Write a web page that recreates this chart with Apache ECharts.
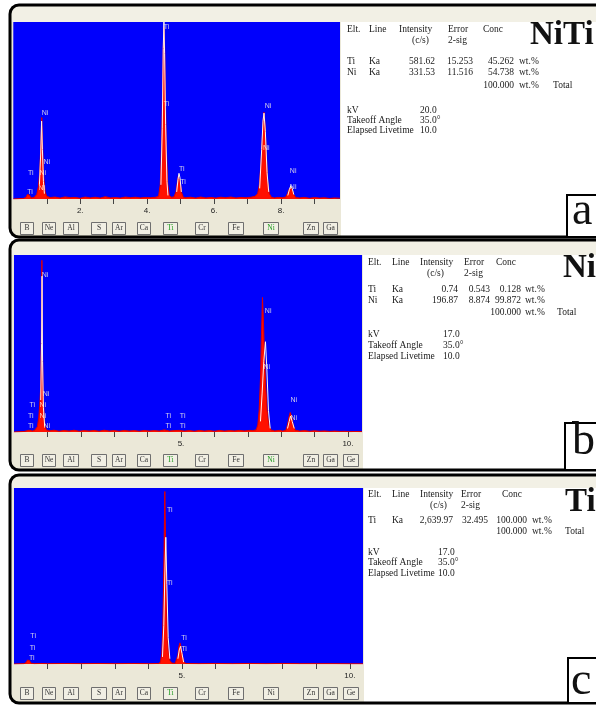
<!DOCTYPE html>
<html><head><meta charset="utf-8">
<script src="https://cdn.jsdelivr.net/npm/echarts@6/dist/echarts.min.js"></script>
<style>html,body{margin:0;padding:0;background:#fff}#c{width:596px;height:706px}</style>
</head><body><div id="c"></div>
<script>
// ---------------- DATA ----------------
// Spectra: [energy keV, relative counts %]
const spectrumA = [
 [0,0],[0.30,0.3],[0.38,1.0],[0.42,2.5],[0.45,3.5],[0.48,2.2],[0.53,0.6],[0.62,0.9],[0.70,2.5],[0.75,7],[0.79,15],[0.82,29],[0.85,46],[0.88,27],[0.91,12],[0.95,4],[1.00,1.5],
 [1.10,0.8],[1.25,1.1],[1.40,0.5],[1.55,1.2],[1.70,0.7],[1.85,0.9],[2.00,0.4],[2.15,1.1],[2.30,0.6],[2.45,1.0],[2.60,0.5],[2.75,1.3],[2.90,0.6],[3.05,0.8],[3.20,0.5],[3.35,1.1],[3.50,0.7],[3.65,1.0],[3.80,0.6],[3.95,0.9],[4.10,0.7],[4.25,1.0],
 [4.34,1.5],[4.39,8],[4.43,30],[4.46,62],[4.48,85],[4.50,97],[4.52,86],[4.54,62],[4.57,30],[4.61,9],[4.66,2.0],[4.72,1.0],
 [4.80,1.2],[4.86,4],[4.90,9],[4.93,13],[4.96,13.5],[4.99,9],[5.03,3.5],[5.08,1.0],
 [5.15,0.7],[5.30,1.0],[5.45,0.5],[5.60,1.1],[5.75,0.6],[5.90,0.9],[6.05,0.5],[6.20,1.0],[6.35,0.7],[6.50,1.1],[6.65,0.6],[6.80,0.9],[6.95,0.7],[7.10,1.0],
 [7.22,1.5],[7.30,3],[7.35,8],[7.40,20],[7.44,35],[7.47,46],[7.49,49],[7.52,42],[7.56,25],[7.60,10],[7.65,3],[7.71,1.0],
 [7.80,0.6],[7.92,0.9],[8.05,0.7],[8.14,1.2],[8.19,3],[8.24,5.5],[8.29,6.8],[8.33,5.5],[8.38,2.5],[8.44,0.8],
 [8.55,0.6],[8.70,0.9],[8.85,0.4],[9.00,0.8],[9.15,0.5],[9.30,0.7],[9.45,0.3],[9.60,0.6],[9.76,0.4]
];
const overlayA = [
 [0.78,8],[0.82,26],[0.845,44],[0.87,28],[0.90,10],[0.93,3],[0.95,'-'],
 [4.41,8],[4.45,40],[4.48,85],[4.50,100],[4.52,82],[4.55,42],[4.59,10],[4.62,2],[4.75,'-'],
 [4.88,4],[4.92,11],[4.95,14.5],[4.98,12],[5.02,4],[5.10,'-'],
 [7.36,6],[7.42,28],[7.46,44],[7.49,48.5],[7.53,38],[7.58,15],[7.63,4],[7.80,'-'],
 [8.20,2],[8.25,5.5],[8.29,7.5],[8.33,6],[8.38,2.5]
];
const spectrumB = [
 [0,0],[0.30,0.3],[0.45,1.0],[0.55,0.6],[0.62,1.0],[0.66,1.5],[0.70,3],[0.74,8],[0.77,15],[0.80,25],[0.82,55],[0.835,97],[0.85,50],[0.87,22],[0.90,10],[0.93,3],[0.97,1.2],
 [1.05,0.6],[1.20,1.0],[1.35,0.4],[1.50,0.9],[1.65,0.5],[1.80,1.0],[1.95,0.4],[2.10,0.8],[2.25,0.5],[2.40,0.9],[2.55,0.4],[2.70,1.0],[2.85,0.5],[3.00,0.8],[3.15,0.4],[3.30,0.9],[3.45,0.5],[3.60,0.8],[3.75,0.4],[3.90,0.9],[4.05,0.5],[4.20,0.8],[4.35,0.5],[4.50,1.2],[4.65,0.5],[4.80,0.8],[4.95,0.9],[5.10,0.5],[5.25,0.8],[5.40,0.4],[5.55,0.9],[5.70,0.5],[5.85,0.8],[6.00,0.4],[6.15,0.9],[6.30,0.5],[6.45,0.8],[6.60,0.6],[6.75,0.9],[6.90,0.6],[7.05,0.9],[7.15,0.8],
 [7.25,1.2],[7.30,4],[7.34,12],[7.38,30],[7.41,55],[7.44,76],[7.47,62],[7.50,42],[7.54,25],[7.58,12],[7.63,4],[7.69,1.2],
 [7.80,0.6],[7.95,0.9],[8.05,0.5],[8.14,1.0],[8.19,4],[8.23,8],[8.27,11],[8.31,9],[8.36,4],[8.42,1.0],
 [8.55,0.5],[8.70,0.8],[8.85,0.4],[9.00,0.7],[9.15,0.4],[9.30,0.6],[9.45,0.3],[9.60,0.5],[9.75,0.3],[9.90,0.4],[10.05,0.2],[10.20,0.3],[10.42,0.2]
];
const overlayB = [
 [0.80,18],[0.825,50],[0.84,88],[0.855,40],[0.88,14],[0.92,3],[1.00,'-'],
 [7.38,6],[7.43,22],[7.48,40],[7.53,51],[7.57,36],[7.62,12],[7.67,2],[7.90,'-'],
 [8.19,2],[8.24,6],[8.28,9],[8.33,6],[8.39,2]
];
const spectrumC = [
 [0,0],[0.30,0.2],[0.36,0.8],[0.40,2.2],[0.43,3.0],[0.46,2.0],[0.50,0.5],[0.60,0.2],[0.80,0.3],[1.00,0.2],[1.50,0.3],[2.00,0.2],[2.50,0.3],[3.00,0.2],[3.50,0.3],[4.00,0.2],
 [4.30,0.3],[4.36,1],[4.40,6],[4.43,20],[4.46,55],[4.49,98],[4.52,60],[4.55,25],[4.59,8],[4.64,2],[4.70,0.5],
 [4.80,0.4],[4.84,1],[4.88,5],[4.91,10],[4.94,12],[4.97,10],[5.01,5],[5.06,1],[5.12,0.3],
 [5.50,0.2],[6.00,0.3],[6.50,0.2],[7.00,0.3],[7.50,0.2],[8.00,0.3],[8.50,0.2],[9.00,0.2],[9.50,0.2],[10.00,0.1],[10.39,0.1]
];
const overlayC = [
 [4.42,4],[4.46,22],[4.49,50],[4.52,72],[4.55,45],[4.59,15],[4.64,3],[4.75,'-'],
 [4.88,3],[4.92,8],[4.96,10],[5.00,6],[5.05,1]
];
// Peak markers: [keV, counts %, element]
const markersA = [
 [4.58,97.3,'Ti'],[4.58,53.7,'Ti'],[7.61,52.5,'Ni'],[7.56,28.6,'Ni'],[5.03,16.8,'Ti'],[5.07,9.8,'Ti'],
 [8.36,15.8,'Ni'],[8.36,7.0,'Ni'],[0.95,48.8,'Ni'],[1.00,21.1,'Ni'],[0.52,14.9,'Ti'],[0.88,14.9,'Ni'],[0.50,4.1,'Ti'],[0.85,6.4,'Ni']
];
const markersB = [
 [0.93,88.7,'Ni'],[7.61,68.4,'Ni'],[7.57,36.9,'Ni'],[0.96,21.3,'Ni'],[0.55,15.3,'Ti'],[0.86,15.3,'Ni'],
 [0.50,9.0,'Ti'],[0.86,9.0,'Ni'],[0.50,3.4,'Ti'],[0.98,3.4,'Ni'],[4.62,9.0,'Ti'],[5.05,9.0,'Ti'],
 [4.62,3.4,'Ti'],[5.05,3.4,'Ti'],[8.38,18.1,'Ni'],[8.38,8.1,'Ni']
];
const markersC = [
 [4.64,87.5,'Ti'],[4.64,45.8,'Ti'],[0.57,15.9,'Ti'],[0.55,8.9,'Ti'],[0.53,3.2,'Ti'],[5.06,15.0,'Ti'],[5.06,8.5,'Ti']
];
// Axis ticks and tick labels (keV)
const ticksA = [1,2,3,4,5,6,7,8,9];
const tickLabelsA = [2,4,6,8];
const ticksB = [1,2,3,4,5,6,7,8,9,10];
const tickLabelsB = [5,10];
const ticksC = [1,2,3,4,5,6,7,8,9,10];
const tickLabelsC = [5,10];
// Element buttons
const elementButtons = ['B','Ne','Al','S','Ar','Ca','Ti','Cr','Fe','Ni','Zn','Ga','Ge'];
const activeA = ['Ti','Ni'], activeB = ['Ti','Ni'], activeC = ['Ti'];
// Quantification tables
const tableHeader = ['Elt.','Line','Intensity','Error','Conc'];
const tableHeader2 = ['(c/s)','2-sig'];
const eltA = ['Ti','Ni'], lineA = ['Ka','Ka'], intA = ['581.62','331.53'], errA = ['15.253','11.516'], concA = ['45.262','54.738'];
const eltB = ['Ti','Ni'], lineB = ['Ka','Ka'], intB = ['0.74','196.87'], errB = ['0.543','8.874'], concB = ['0.128','99.872'];
const eltC = ['Ti'], lineC = ['Ka'], intC = ['2,639.97'], errC = ['32.495'], concC = ['100.000'];
const totalConc = '100.000';
const condLabels = ['kV','Takeoff Angle','Elapsed Livetime'];
const condA = ['20.0','35.0°','10.0'], condB = ['17.0','35.0°','10.0'], condC = ['17.0','35.0°','10.0'];
const sampleNames = ['NiTi','Ni','Ti'];
const panelLetters = ['a','b','c'];

// ---------------- LAYOUT ----------------
const BTN_X = [20,42,63,91,112,137,163,195,228,263,303,323,343];
const BTN_W = [13,13,15,15,13,13,14,13,15,15,15,14,15];
const panels = [
 {top:5,bottom:237,win:341,grid:{left:13.3,top:22,width:326.7,height:177},xmax:9.76,btnY:222,
  spec:spectrumA,ovl:overlayA,mk:markersA,ticks:ticksA,tl:tickLabelsA,active:activeA,
  tab:{elt:eltA,line:lineA,int:intA,err:errA,conc:concA,cond:condA},
  c:{elt:347,line:369,intH:399,cs:412,errH:448,concH:483,intR:435,errR:473,concR:514,unit:519,total:553,val:420},
  r:{h1:29,h2:40,r0:61,dr:11,tot:85,kv:110,dk:10},
  big:{x:530,y:35,size:33},box:{x:567,y:195,h:42},letter:{x:572,y:212}},
 {top:240,bottom:470,win:363,grid:{left:14,top:255,width:348,height:177},xmax:10.42,btnY:454,
  spec:spectrumB,ovl:overlayB,mk:markersB,ticks:ticksB,tl:tickLabelsB,active:activeB,
  tab:{elt:eltB,line:lineB,int:intB,err:errB,conc:concB,cond:condB},
  c:{elt:368,line:392,intH:420,cs:427,errH:464,concH:496,intR:458,errR:490,concR:521,unit:525,total:557,val:443},
  r:{h1:262,h2:273,r0:289,dr:11.5,tot:312,kv:334,dk:11.3},
  big:{x:563,y:268,size:33},box:{x:565,y:423,h:47},letter:{x:572,y:442}},
 {top:475,bottom:703,win:364,grid:{left:14,top:488,width:349,height:176},xmax:10.39,btnY:687,
  spec:spectrumC,ovl:overlayC,mk:markersC,ticks:ticksC,tl:tickLabelsC,active:activeC,
  tab:{elt:eltC,line:lineC,int:intC,err:errC,conc:concC,cond:condC},
  c:{elt:368,line:392,intH:420,cs:430,errH:461,concH:502,intR:453,errR:488,concR:527,unit:532,total:565,val:438},
  r:{h1:494,h2:505,r0:520,dr:11,tot:531,kv:552,dk:10.7},
  big:{x:565,y:502,size:33},box:{x:568,y:658,h:45},letter:{x:571,y:682}}
];

const SERIF = '"Liberation Serif", "Times New Roman", serif';
const grids = [], xAxes = [], yAxes = [], series = [], graphics = [];
function txt(x,y,t,opt){
  opt = opt||{};
  graphics.push({type:'text',x:x,y:y,z:30,silent:true,style:{text:t,
    font:(opt.weight||'normal')+' '+(opt.size||9.5)+'px '+SERIF,
    fill:opt.fill||'#1a1a1a',align:opt.align||'left',verticalAlign:'middle'}});
}

panels.forEach((p,i)=>{
  graphics.push({type:'rect',z:-10,silent:true,shape:{x:11,y:p.top+1,width:p.win-11,height:p.bottom-p.top-2},style:{fill:'#ebe8d8'}});
  graphics.push({type:'rect',z:-9,silent:true,shape:{x:11,y:p.top+1,width:600,height:p.grid.top-p.top-1},style:{fill:'#f2f0e5'}});
  graphics.push({type:'rect',z:60,silent:true,shape:{x:10,y:p.top,width:640,height:p.bottom-p.top,r:9},style:{fill:null,stroke:'#000',lineWidth:3}});
  elementButtons.forEach((el,k)=>{
    if (BTN_X[k]+BTN_W[k] > p.win) return;
    graphics.push({type:'rect',z:20,silent:true,shape:{x:BTN_X[k]+0.5,y:p.btnY+0.5,width:BTN_W[k],height:12},
      style:{fill:'#f1efe4',stroke:'#6f6f6f',lineWidth:1}});
    graphics.push({type:'text',z:21,silent:true,x:BTN_X[k]+BTN_W[k]/2+0.5,y:p.btnY+6.5,
      style:{text:el,font:'7.5px '+SERIF,fill:p.active.indexOf(el)>=0?'#1e9a1e':'#333',align:'center',verticalAlign:'middle'}});
  });
  const c=p.c, r=p.r, t=p.tab;
  txt(c.elt,r.h1,tableHeader[0]); txt(c.line,r.h1,tableHeader[1]); txt(c.intH,r.h1,tableHeader[2]);
  txt(c.errH,r.h1,tableHeader[3]); txt(c.concH,r.h1,tableHeader[4]);
  txt(c.cs,r.h2,tableHeader2[0]); txt(c.errH,r.h2,tableHeader2[1]);
  t.elt.forEach((e,k)=>{
    const y=r.r0+k*r.dr;
    txt(c.elt,y,e); txt(c.line,y,t.line[k]);
    txt(c.intR,y,t.int[k],{align:'right'}); txt(c.errR,y,t.err[k],{align:'right'});
    txt(c.concR,y,t.conc[k],{align:'right'}); txt(c.unit,y,'wt.%');
  });
  txt(c.concR,r.tot,totalConc,{align:'right'}); txt(c.unit,r.tot,'wt.%'); txt(c.total,r.tot,'Total');
  condLabels.forEach((lab,k)=>{ txt(c.elt,r.kv+k*r.dk,lab); txt(c.val,r.kv+k*r.dk,t.cond[k]); });
  txt(p.big.x,p.big.y,sampleNames[i],{size:p.big.size,weight:'bold',fill:'#111'});
  graphics.push({type:'rect',z:61,silent:true,shape:{x:p.box.x,y:p.box.y,width:60,height:p.box.h},style:{fill:'#fff',stroke:'#000',lineWidth:2}});
  graphics.push({type:'text',z:62,silent:true,x:p.letter.x,y:p.letter.y,style:{text:panelLetters[i],font:'46px '+SERIF,fill:'#111',align:'left',verticalAlign:'middle'}});

  grids.push({left:p.grid.left,top:p.grid.top,width:p.grid.width,height:p.grid.height,show:true,backgroundColor:'#0000fc',borderWidth:0});
  xAxes.push({gridIndex:i,type:'value',min:0,max:p.xmax,interval:1,
    axisLine:{show:false},splitLine:{show:false},
    axisTick:{show:true,inside:false,length:5,lineStyle:{color:'#444',width:1},customValues:p.ticks},
    axisLabel:{show:true,margin:8,fontSize:8,color:'#222',fontFamily:'"Liberation Sans", Arial, sans-serif',customValues:p.tl,formatter:v=>v+'.'}});
  yAxes.push({gridIndex:i,type:'value',min:0,max:100,show:false});
  series.push({type:'line',xAxisIndex:i,yAxisIndex:i,data:p.spec,symbol:'none',silent:true,z:2,
    lineStyle:{color:'#e00000',width:1},areaStyle:{color:'#ff1000',opacity:1}});
  series.push({type:'line',xAxisIndex:i,yAxisIndex:i,data:p.ovl,symbol:'none',silent:true,z:3,connectNulls:false,
    lineStyle:{color:'#fff4f0',width:1}});
  series.push({type:'scatter',xAxisIndex:i,yAxisIndex:i,silent:true,z:4,symbolSize:1,itemStyle:{color:'transparent'},
    data:p.mk.map(d=>({value:[d[0],d[1]],name:d[2]})),
    label:{show:true,position:'inside',formatter:'{b}',fontSize:7,color:'#fffbe6',fontFamily:'"Liberation Sans", Arial, sans-serif'}});
});

const chart = echarts.init(document.getElementById('c'),null,{renderer:'canvas'});
chart.setOption({animation:false,backgroundColor:'#ffffff',grid:grids,xAxis:xAxes,yAxis:yAxes,series:series,graphic:graphics});
</script>
</body></html>
